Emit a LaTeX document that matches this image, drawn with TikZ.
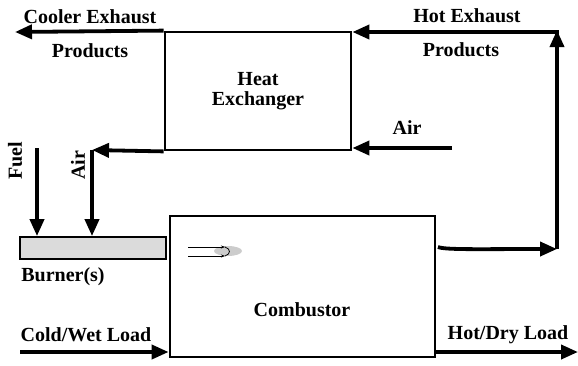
\documentclass[tikz,border=0pt]{standalone}
\usepackage{fontspec}
\setmainfont{Liberation Serif}
\usetikzlibrary{arrows.meta}
\begin{document}
\begin{tikzpicture}[x=1pt,y=-1pt,
  flow/.style={line width=3.8pt,-{Triangle[length=17pt,width=14pt]}},
  plain/.style={line width=3.8pt},
  box/.style={draw,line width=2.8pt,rectangle,inner sep=0pt},
  lbl/.style={font=\fontsize{20}{22}\selectfont\bfseries,inner sep=0pt}]
\useasboundingbox (0,0) rectangle (578,365);
% boxes
\node[box,minimum width=186pt,minimum height=118pt] (hx) at (258,91) {};
\node[box,minimum width=265pt,minimum height=141pt] (comb) at (302.5,286.5) {};
\node[draw,line width=1.8pt,fill=gray!28,minimum width=146pt,minimum height=22pt,inner sep=0pt] (burner) at (93,248) {};
% labels
\node[lbl] (thx1) at (258,79) {Heat};
\node[lbl] (thx2) at (258,101) {Exchanger};
\node[lbl] (tcomb) at (302,310) {Combustor};
\node[lbl] (tburn) at (63,277) {Burner(s)};
\node[lbl] (tcool1) at (90,17) {Cooler Exhaust};
\node[lbl] (tcool2) at (90,51) {Products};
\node[lbl] (thot1) at (467,16) {Hot Exhaust};
\node[lbl] (thot2) at (461,50) {Products};
\node[lbl] (tair) at (407,128) {Air};
\node[lbl,rotate=90] (tair2) at (78,165) {Air};
\node[lbl,rotate=90] (tfuel) at (15,161) {Fuel};
\node[lbl] (tcold) at (86,335) {Cold/Wet Load};
\node[lbl] (tdry) at (508,335) {Hot/Dry Load};
% coordinates
\coordinate (coolend) at (15,32);
\coordinate (aircorner) at (92,150);
\coordinate (fuelstart) at (37,148);
\coordinate (airin) at (452,148);
\coordinate (hotcorner) at (557,249);
\coordinate (hottop) at (557,32);
\coordinate (combout) at (438,247);
\coordinate (coldstart) at (20,352);
\coordinate (dryend) at (578,352);
% connectors
\draw[flow] (hx.north west) -- (coolend);
\draw[flow] (hx.south west) -- (aircorner);
\draw[plain] (aircorner) -- ++(0,10);
\draw[flow] ([yshift=-1.9pt]aircorner) -- (aircorner |- burner.north);
\draw[flow] (fuelstart) -- (fuelstart |- burner.north);
\draw[flow] (airin) -- (airin -| hx.east);
\draw[flow] (combout) .. controls (445,250) and (480,249) .. (hotcorner);
\draw[plain] (hotcorner) -- (hottop);
\draw[flow] (hotcorner) -- ([yshift=1.9pt]hottop);
\draw[flow] ([xshift=1.9pt]hottop) -- (hottop -| hx.east);
\draw[flow] (coldstart) -- (coldstart -| comb.west);
\draw[flow] (comb.east |- dryend) -- (dryend);
% flame in combustor
\fill[gray!40] (228,251) ellipse (14pt and 5pt);
\draw[line width=0.8pt,-{Stealth[length=4pt]}] (188,247) -- (225,247);
\draw[line width=0.8pt,-{Stealth[length=4pt]}] (188,256) -- (225,256);
\draw[line width=0.8pt] (225,247) .. controls (231,249) and (231,254) .. (225,256);
\end{tikzpicture}
\end{document}
